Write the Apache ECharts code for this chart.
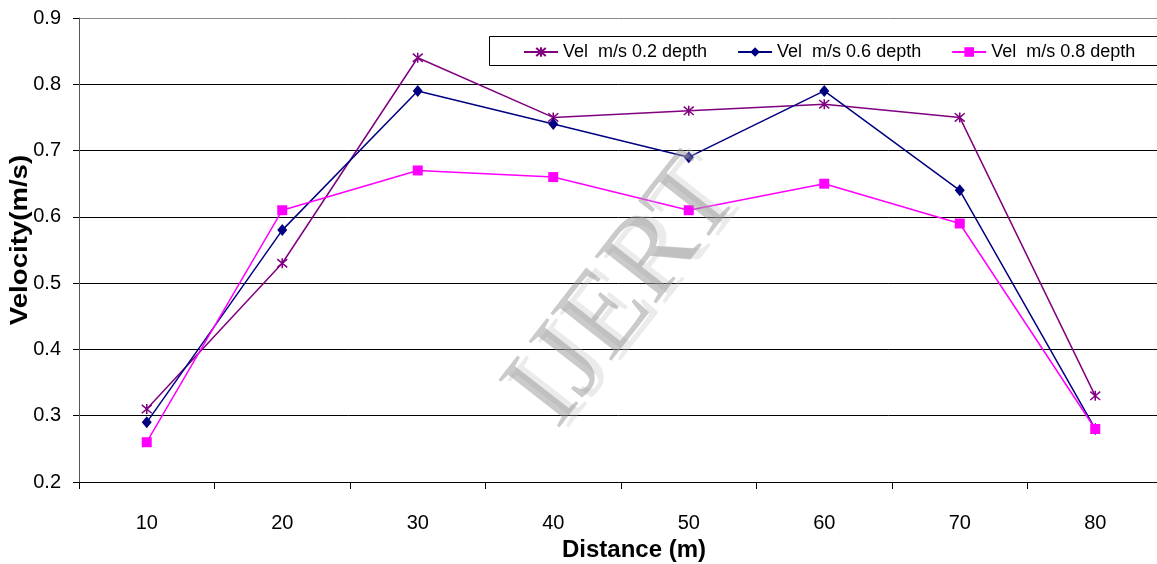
<!DOCTYPE html>
<html>
<head>
<meta charset="utf-8">
<script src="https://cdn.jsdelivr.net/npm/echarts@6/dist/echarts.min.js"></script>
<style>
html,body{margin:0;padding:0;background:#fff;}
#chart{width:1157px;height:564px;}
</style>
</head>
<body>
<div id="chart"></div>
<script>
const categories = ['10', '20', '30', '40', '50', '60', '70', '80'];
const vel02 = [0.31, 0.53, 0.84, 0.75, 0.76, 0.77, 0.75, 0.33];
const vel06 = [0.29, 0.58, 0.79, 0.74, 0.69, 0.79, 0.64, 0.28];
const vel08 = [0.26, 0.61, 0.67, 0.66, 0.61, 0.65, 0.59, 0.28];
const seriesNames = ['Vel  m/s 0.2 depth', 'Vel  m/s 0.6 depth', 'Vel  m/s 0.8 depth'];
const xTitle = 'Distance (m)';
const yTitle = 'Velocity(m/s)';

const FONT = '"Liberation Sans", Arial, sans-serif';
const WM_FONT = '118px "Liberation Serif", "DejaVu Serif", serif';
const starPath = 'path://M-5,-5L5,5M5,-5L-5,5M0,-6L0,6';

const chart = echarts.init(document.getElementById('chart'), null, {renderer: 'canvas'});
chart.setOption({
  animation: false,
  backgroundColor: '#fff',
  grid: {left: 79, right: -6, top: 18, bottom: 82, containLabel: false, outerBoundsMode: 'none'},
  legend: {
    left: 518, top: 38,
    itemWidth: 34, itemHeight: 12, itemGap: 30,
    textStyle: {fontFamily: FONT, fontSize: 18, color: '#000'},
    data: seriesNames
  },
  xAxis: {
    type: 'category',
    data: categories,
    boundaryGap: true,
    name: xTitle,
    nameLocation: 'middle',
    nameGap: 48,
    nameTextStyle: {fontFamily: FONT, fontSize: 24, fontWeight: 'bold', color: '#000', padding: [0, 0, 0, 26]},
    axisLine: {lineStyle: {color: '#000', width: 1}},
    axisTick: {show: true, length: 7, lineStyle: {color: '#000'}},
    axisLabel: {fontFamily: FONT, fontSize: 20, color: '#000', margin: 31},
    splitLine: {show: false}
  },
  yAxis: {
    type: 'value',
    min: 0.2, max: 0.9, interval: 0.1,
    axisLine: {show: true, lineStyle: {color: '#555', width: 1}},
    axisTick: {show: true, length: 6, lineStyle: {color: '#000'}},
    axisLabel: {fontFamily: FONT, fontSize: 20, color: '#000', margin: 18,
      formatter: v => v.toFixed(1)},
    splitLine: {show: true, lineStyle: {color: ['#000','#000','#000','#000','#000','#000','#000','#888'], width: 1}}
  },
  graphic: [
    {type: 'rect', left: 487, top: 34, shape: {width: 669, height: 29},
     style: {fill: 'none', stroke: '#000', lineWidth: 1}, z: 10},
    {type: 'text', x: 21, y: 240, rotation: Math.PI / 2, scaleX: 1.2, z: 10,
     style: {text: yTitle, font: 'bold 23px ' + FONT, fill: '#000', align: 'center', verticalAlign: 'middle'}},
    {type: 'text', x: 634, y: 293, rotation: 52 * Math.PI / 180, z: 19,
     style: {text: 'IJERT', font: WM_FONT, fill: 'rgba(190,190,190,0.3)',
       align: 'center', verticalAlign: 'middle'}},
    {type: 'text', x: 625, y: 293, rotation: 52 * Math.PI / 180, z: 20,
     style: {text: 'IJERT', font: WM_FONT, fill: 'rgba(150,150,150,0.5)',
       align: 'center', verticalAlign: 'middle'}}
  ],
  series: [
    {name: seriesNames[0], type: 'line', data: vel02, symbol: starPath, symbolSize: 10,
     lineStyle: {color: '#800080', width: 1.5},
     itemStyle: {color: '#800080', borderColor: '#800080', borderWidth: 1.5}},
    {name: seriesNames[1], type: 'line', data: vel06, symbol: 'diamond', symbolSize: [10, 12],
     lineStyle: {color: '#000080', width: 1.5},
     itemStyle: {color: '#000080', borderWidth: 0}},
    {name: seriesNames[2], type: 'line', data: vel08, symbol: 'rect', symbolSize: 10,
     lineStyle: {color: '#FF00FF', width: 1.5},
     itemStyle: {color: '#FF00FF', borderWidth: 0}}
  ]
});
</script>
</body>
</html>
